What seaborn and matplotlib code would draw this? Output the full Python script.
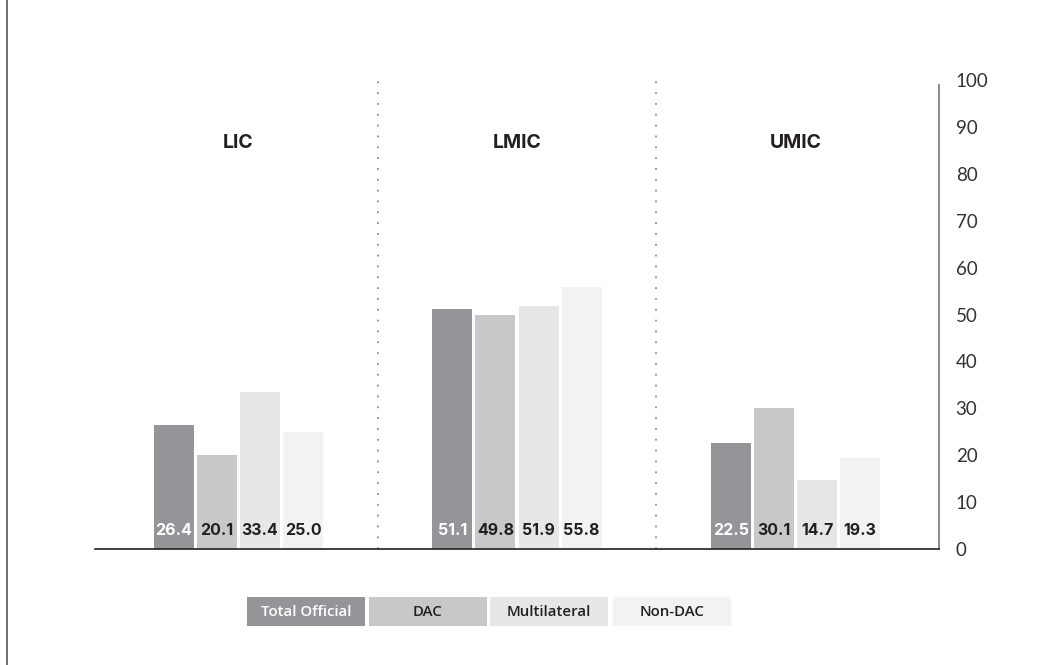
import matplotlib
matplotlib.use("Agg")
import matplotlib.pyplot as plt
from matplotlib.patches import Rectangle
from matplotlib.lines import Line2D
import seaborn as sns
import pandas as pd

# Shares (%) by income group and donor type
groups = ["LIC", "LMIC", "UMIC"]
series = ["Total Official", "DAC", "Multilateral", "Non-DAC"]
total_official = [26.4, 51.1, 22.5]
dac = [20.1, 49.8, 30.1]
multilateral = [33.4, 51.9, 14.7]
non_dac = [25.0, 55.8, 19.3]
y_ticks = [0, 10, 20, 30, 40, 50, 60, 70, 80, 90, 100]

colors = ["#939598", "#c7c8ca", "#e6e7e8", "#f1f2f2"]
label_colors = ["white", "#231f20", "#231f20", "#231f20"]

rows = []
for name, vals in zip(series, [total_official, dac, multilateral, non_dac]):
    for g, v in zip(groups, vals):
        rows.append({"group": g, "series": name, "value": v})
df = pd.DataFrame(rows)

sns.set_theme(style="white")
plt.rcParams["font.family"] = ["Inter", "DejaVu Sans"]

W, H = 1052, 665
fig = plt.figure(figsize=(W / 100, H / 100), dpi=100)
ax = fig.add_axes([95 / W, (H - 549) / H, (939 - 95) / W, (549 - 80) / H])

sns.barplot(data=df, x="group", y="value", hue="series", order=groups,
            hue_order=series, palette=colors, saturation=1, width=0.6176,
            gap=0.07, legend=False, ax=ax, linewidth=0)

ax.set_xlim(-0.515, 2.515)
ax.set_ylim(0, 100)
ax.set_xlabel("")
ax.set_ylabel("")
ax.set_xticks([])

# Y axis on the right
ax.yaxis.tick_right()
ax.set_yticks(y_ticks)
ax.set_yticklabels([str(t) for t in y_ticks])
ax.tick_params(axis="y", length=0, pad=12, labelsize=13.5, labelcolor="#333333")
for lbl in ax.get_yticklabels():
    lbl.set_horizontalalignment("left")
    lbl.set_family(["Lato", "DejaVu Sans"])

for side in ["top", "left"]:
    ax.spines[side].set_visible(False)
ax.spines["bottom"].set_color("#231f20")
ax.spines["bottom"].set_linewidth(1.2)
ax.spines["right"].set_color("#8a8a8a")
ax.spines["right"].set_linewidth(1.4)
ax.spines["right"].set_bounds(0, 99)

# Dotted dividers between income groups
for xd in [0.5, 1.5]:
    ax.axvline(xd, ymin=0, ymax=1.0, color="#8f8f8f", lw=1.3,
               linestyle=(0, (1, 5)), zorder=0)

# Group headings
for i, g in enumerate(groups):
    ax.text(i, 86.5, g, ha="center", va="center", fontsize=14,
            fontweight="bold", color="#231f20")

# Value labels at the foot of each bar
for container, tcol in zip(ax.containers, label_colors):
    for bar in container:
        val = bar.get_height()
        ax.annotate(f"{val:.1f}", (bar.get_x() + bar.get_width() / 2, 0),
                    xytext=(0, 13), textcoords="offset points",
                    ha="center", va="center", fontsize=11.5,
                    fontweight="bold", color=tcol)

# Legend as a row of filled boxes
box_x = [247, 369, 490, 613]
box_w, box_y0, box_y1 = 118, 597, 626
for x0, name, col, tcol in zip(box_x, series, colors, label_colors):
    fig.patches.append(Rectangle((x0 / W, (H - box_y1) / H), box_w / W,
                                 (box_y1 - box_y0) / H,
                                 transform=fig.transFigure, facecolor=col,
                                 edgecolor="none"))
    fig.text((x0 + box_w / 2) / W, (H - (box_y0 + box_y1) / 2) / H, name,
             ha="center", va="center", fontsize=10.8, fontweight="semibold",
             color=tcol, family=["Open Sans", "DejaVu Sans"])

# Frame line at the left edge
fig.add_artist(Line2D([6.5 / W, 6.5 / W], [0, 1], transform=fig.transFigure,
                      color="#555555", lw=1.2))

fig.savefig("out.png", dpi=100, facecolor="white")
